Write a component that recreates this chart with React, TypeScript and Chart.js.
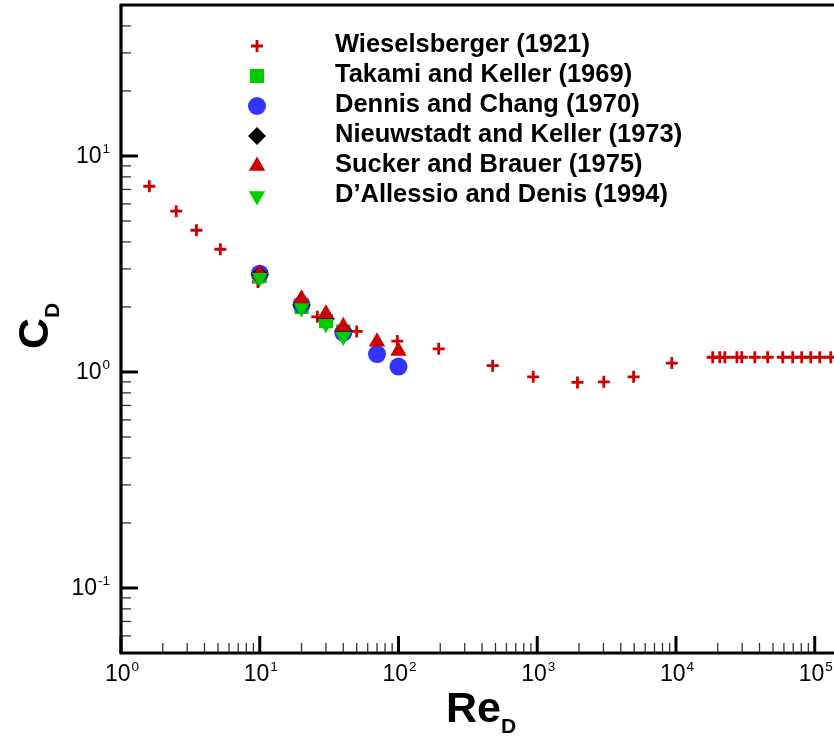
import React, { useEffect, useRef } from 'react';
import { Chart, registerables } from 'chart.js';
import { drawPoint } from 'chart.js/helpers';

Chart.register(...registerables);

// ---- data ----
const wieselsbergerRe = [1.6, 2.5, 3.5, 5.2, 9.7, 26, 50, 98, 195, 477, 935, 1950, 3020, 4950, 9330,
  18400, 20700, 22500, 27500, 29800, 37000, 45800, 58800, 69400, 80600, 93600, 108700, 130500];
const wieselsbergerCd = [7.24, 5.55, 4.53, 3.70, 2.61, 1.80, 1.54, 1.39, 1.28, 1.07, 0.95, 0.895, 0.9, 0.95, 1.1,
  1.17, 1.17, 1.17, 1.17, 1.17, 1.17, 1.17, 1.17, 1.17, 1.17, 1.17, 1.17, 1.17];
const takamiRe = [10, 20, 30, 40];
const takamiCd = [2.78, 2.0, 1.72, 1.54];
const dennisRe = [10, 20, 40, 70, 100];
const dennisCd = [2.85, 2.05, 1.52, 1.21, 1.06];
const nieuwstadtRe = [10, 20, 30, 40];
const nieuwstadtCd = [2.83, 2.05, 1.76, 1.55];
const suckerRe = [10, 20, 30, 40, 70, 100];
const suckerCd = [2.85, 2.18, 1.86, 1.63, 1.38, 1.25];
const dalessioRe = [10, 20, 30, 40];
const dalessioCd = [2.73, 1.98, 1.67, 1.46];

const seriesLabels = [
  'Wieselsberger (1921)',
  'Takami and Keller (1969)',
  'Dennis and Chang (1970)',
  'Nieuwstadt and Keller (1973)',
  'Sucker and Brauer (1975)',
  'D\u2019Allessio and Denis (1994)',
];
const xTickExponents = [0, 1, 2, 3, 4, 5];
const yTickExponents = [-1, 0, 1];

// ---- styles ----
const RED = '#CC0000';
const GREEN = '#00CC00';
const BLUE = '#3333FF';
const BLACK = '#000000';
const markerStyles = [
  { pointStyle: 'cross', radius: 6, color: RED, borderWidth: 2.8, rotation: 0 },
  { pointStyle: 'rect', radius: 10, color: GREEN, borderWidth: 0, rotation: 0 },
  { pointStyle: 'circle', radius: 9, color: BLUE, borderWidth: 0, rotation: 0 },
  { pointStyle: 'rectRot', radius: 9, color: BLACK, borderWidth: 0, rotation: 0 },
  { pointStyle: 'triangle', radius: 9.5, color: RED, borderWidth: 0, rotation: 0 },
  { pointStyle: 'triangle', radius: 9.5, color: GREEN, borderWidth: 0, rotation: 180 },
];
const X_MIN = 1;
const X_MAX = 137700;
const Y_MIN = 0.05;
const Y_MAX = 50;
const FONT = '"Liberation Sans", Arial, Helvetica, sans-serif';

const seriesX = [wieselsbergerRe, takamiRe, dennisRe, nieuwstadtRe, suckerRe, dalessioRe];
const seriesY = [wieselsbergerCd, takamiCd, dennisCd, nieuwstadtCd, suckerCd, dalessioCd];

const decorPlugin = {
  id: 'decor',
  afterDraw(chart: any) {
    const { ctx, chartArea } = chart;
    const xs = chart.scales.x;
    const ys = chart.scales.y;
    const L = chartArea.left;
    const R = chartArea.right;
    const T = chartArea.top;
    const B = chartArea.bottom;
    ctx.save();

    // ticks (inward)
    ctx.lineCap = 'butt';
    for (let e = -2; e <= 2; e++) {
      for (let k = 1; k <= 9; k++) {
        const v = k * Math.pow(10, e);
        if (v < Y_MIN - 1e-9 || v > Y_MAX + 1e-9) continue;
        const py = ys.getPixelForValue(v);
        const major = k === 1;
        ctx.lineWidth = major ? 3 : 1.3;
        ctx.strokeStyle = major ? '#000' : '#333';
        ctx.beginPath();
        ctx.moveTo(L, py);
        ctx.lineTo(L + (major ? 17 : 10), py);
        ctx.stroke();
      }
    }
    for (let e = 0; e <= 5; e++) {
      for (let k = 1; k <= 9; k++) {
        const v = k * Math.pow(10, e);
        if (v < X_MIN || v > X_MAX) continue;
        const px = xs.getPixelForValue(v);
        const major = k === 1;
        ctx.lineWidth = major ? 3 : 1.3;
        ctx.strokeStyle = major ? '#000' : '#333';
        ctx.beginPath();
        ctx.moveTo(px, B);
        ctx.lineTo(px, B - (major ? 17 : 10));
        ctx.stroke();
      }
    }

    // frame: left, bottom, top
    ctx.strokeStyle = '#000';
    ctx.lineWidth = 3.2;
    ctx.beginPath();
    ctx.moveTo(L, T - 1);
    ctx.lineTo(L, B + 1.5);
    ctx.moveTo(L - 1.5, B);
    ctx.lineTo(R + 2, B);
    ctx.moveTo(L - 1.5, T);
    ctx.lineTo(R + 2, T);
    ctx.stroke();

    // tick labels
    ctx.fillStyle = '#000';
    ctx.textBaseline = 'alphabetic';
    ctx.textAlign = 'left';
    const mainFont = `23px ${FONT}`;
    const supFont = `13.5px ${FONT}`;
    const measure = (exp: number) => {
      ctx.font = mainFont;
      const w1 = ctx.measureText('10').width;
      ctx.font = supFont;
      const w2 = ctx.measureText(String(exp)).width;
      return { w1, w2 };
    };
    const drawPow = (exp: number, left: number, base: number) => {
      const { w1 } = measure(exp);
      ctx.font = mainFont;
      ctx.fillText('10', left, base);
      ctx.font = supFont;
      ctx.fillText(String(exp), left + w1 + 1, base - 10);
    };
    xTickExponents.forEach((e) => {
      const px = xs.getPixelForValue(Math.pow(10, e));
      const { w1, w2 } = measure(e);
      drawPow(e, px - (w1 + 1 + w2) / 2 + 1, B + 28);
    });
    yTickExponents.forEach((e) => {
      const py = ys.getPixelForValue(Math.pow(10, e));
      const { w1, w2 } = measure(e);
      drawPow(e, L - 11 - (w1 + 1 + w2), py + 7);
    });

    // x title: Re_D
    {
      const big = `bold 43px ${FONT}`;
      const small = `bold 21px ${FONT}`;
      ctx.font = big;
      const wa = ctx.measureText('Re').width;
      ctx.font = small;
      const wb = ctx.measureText('D').width;
      const cx = 481;
      const left = cx - (wa + wb) / 2;
      ctx.font = big;
      ctx.fillText('Re', left, 722);
      ctx.font = small;
      ctx.fillText('D', left + wa, 733);
    }
    // y title: C_D (rotated)
    {
      const big = `bold 43px ${FONT}`;
      const small = `bold 21px ${FONT}`;
      ctx.save();
      ctx.translate(48, 326);
      ctx.rotate(-Math.PI / 2);
      ctx.font = big;
      const wa = ctx.measureText('C').width;
      ctx.font = small;
      const wb = ctx.measureText('D').width;
      const left = -(wa + wb) / 2;
      ctx.font = big;
      ctx.fillText('C', left, 0);
      ctx.font = small;
      ctx.fillText('D', left + wa, 11);
      ctx.restore();
    }

    // legend
    const legendMarkerX = 257;
    const legendTextX = 335;
    const rowY0 = 46;
    const rowStep = 30;
    seriesLabels.forEach((label, i) => {
      const s = markerStyles[i];
      const cy = rowY0 + i * rowStep;
      ctx.fillStyle = s.color;
      ctx.strokeStyle = s.color;
      ctx.lineWidth = s.borderWidth;
      drawPoint(ctx, { pointStyle: s.pointStyle as any, rotation: s.rotation, radius: s.radius, borderWidth: s.borderWidth }, legendMarkerX, cy);
      ctx.fillStyle = '#000';
      ctx.font = `bold 25.5px ${FONT}`;
      ctx.textBaseline = 'alphabetic';
      ctx.fillText(label, legendTextX, cy + 6);
    });

    ctx.restore();
  },
};

export default function App() {
  const canvasRef = useRef<HTMLCanvasElement | null>(null);

  useEffect(() => {
    const canvas = canvasRef.current;
    if (!canvas) return;
    const datasets = seriesLabels.map((label, i) => {
      const s = markerStyles[i];
      return {
        label,
        data: seriesX[i].map((x, j) => ({ x, y: seriesY[i][j] })),
        showLine: false,
        pointStyle: s.pointStyle as any,
        pointRadius: s.radius,
        pointRotation: s.rotation,
        pointBackgroundColor: s.color,
        pointBorderColor: s.color,
        pointBorderWidth: s.borderWidth,
        backgroundColor: s.color,
        borderColor: s.color,
        order: seriesLabels.length - i,
      };
    });
    const chart = new Chart(canvas, {
      type: 'scatter',
      data: { datasets },
      options: {
        responsive: false,
        animation: false,
        events: [],
        layout: { autoPadding: false, padding: { left: 121, top: 5, right: 0, bottom: 87 } },
        plugins: {
          legend: { display: false },
          tooltip: { enabled: false },
        },
        scales: {
          x: { type: 'logarithmic', min: X_MIN, max: X_MAX, display: false },
          y: { type: 'logarithmic', min: Y_MIN, max: Y_MAX, display: false },
        },
      },
      plugins: [decorPlugin],
    });
    return () => chart.destroy();
  }, []);

  return (
    <div style={{ position: 'fixed', left: 0, top: 0, width: 834, height: 740, overflow: 'hidden', background: '#fff' }}>
      <canvas ref={canvasRef} width={834} height={740} style={{ display: 'block', width: 834, height: 740 }} />
    </div>
  );
}
